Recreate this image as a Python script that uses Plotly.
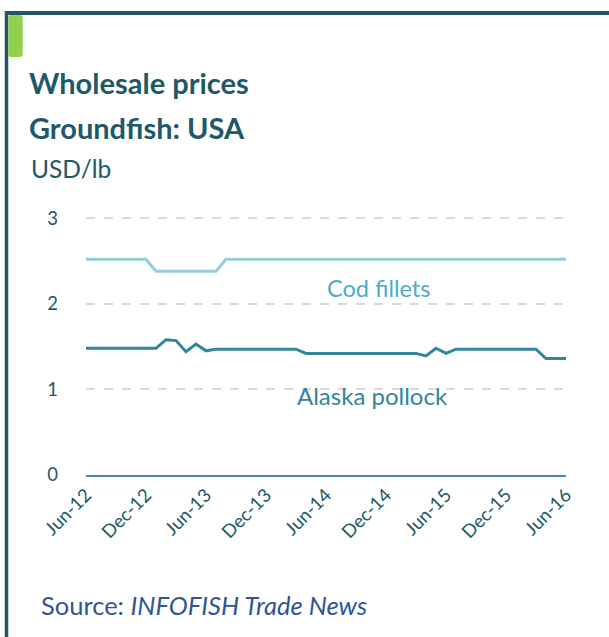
import plotly.graph_objects as go

# ---- data ----
month_labels = ["Jun-12","Jul-12","Aug-12","Sep-12","Oct-12","Nov-12","Dec-12",
                "Jan-13","Feb-13","Mar-13","Apr-13","May-13","Jun-13","Jul-13","Aug-13","Sep-13","Oct-13","Nov-13","Dec-13",
                "Jan-14","Feb-14","Mar-14","Apr-14","May-14","Jun-14","Jul-14","Aug-14","Sep-14","Oct-14","Nov-14","Dec-14",
                "Jan-15","Feb-15","Mar-15","Apr-15","May-15","Jun-15","Jul-15","Aug-15","Sep-15","Oct-15","Nov-15","Dec-15",
                "Jan-16","Feb-16","Mar-16","Apr-16","May-16","Jun-16"]
cod_fillets = [2.52,2.52,2.52,2.52,2.52,2.52,2.52,
               2.38,2.38,2.38,2.38,2.38,2.38,2.38,2.52,2.52,2.52,2.52,2.52,
               2.52,2.52,2.52,2.52,2.52,2.52,2.52,2.52,2.52,2.52,2.52,2.52,
               2.52,2.52,2.52,2.52,2.52,2.52,2.52,2.52,2.52,2.52,2.52,2.52,
               2.52,2.52,2.52,2.52,2.52,2.52]
alaska_pollock = [1.48,1.48,1.48,1.48,1.48,1.48,1.48,
                  1.48,1.58,1.57,1.44,1.53,1.45,1.47,1.47,1.47,1.47,1.47,1.47,
                  1.47,1.47,1.47,1.42,1.42,1.42,1.42,1.42,1.42,1.42,1.42,1.42,
                  1.42,1.42,1.42,1.39,1.48,1.42,1.47,1.47,1.47,1.47,1.47,1.47,
                  1.47,1.47,1.47,1.36,1.36,1.36]
tick_labels = ["Jun-12","Dec-12","Jun-13","Dec-13","Jun-14","Dec-14","Jun-15","Dec-15","Jun-16"]
y_ticks = [0, 1, 2, 3]

W, H = 609, 637
L, R, T, B = 86, 43, 201, 162
PW, PH = W - L - R, H - T - B

def px(x):
    return (x - L) / PW

def py(y):
    return (H - B - y) / PH

FONT = "Lato"
DARK = "#215868"

fig = go.Figure()
fig.add_trace(go.Scatter(x=month_labels, y=cod_fillets, mode="lines",
                         line=dict(color="#93CDDD", width=3), name="Cod fillets"))
fig.add_trace(go.Scatter(x=month_labels, y=alaska_pollock, mode="lines",
                         line=dict(color="#31859C", width=3), name="Alaska pollock"))

fig.update_layout(
    width=W, height=H,
    margin=dict(l=L, r=R, t=T, b=B),
    paper_bgcolor="white", plot_bgcolor="white",
    showlegend=False,
    font=dict(family=FONT, color=DARK),
    xaxis=dict(type="category", range=[0, len(month_labels) - 1],
               tickmode="array", tickvals=tick_labels, ticktext=tick_labels,
               tickangle=-45, tickfont=dict(size=18.5, color=DARK),
               showgrid=False, showline=True, linecolor="#4F81BD", linewidth=2,
               ticks="", zeroline=False),
    yaxis=dict(range=[0, 3.2], tickvals=y_ticks, tickfont=dict(size=18.5, color=DARK),
               showgrid=True, gridcolor="#D9D9D9", griddash="dash", gridwidth=1.5,
               zeroline=False, showline=False, ticks="", ticklabelstandoff=27),
)

# rounded green tab (pixel coords converted to paper)
x0, x1, y0, y1, r = 8.3, 22.7, 15, 57, 3
tab_path = (f"M {px(x0 + r)},{py(y0)} L {px(x1 - r)},{py(y0)} "
            f"Q {px(x1)},{py(y0)} {px(x1)},{py(y0 + r)} L {px(x1)},{py(y1 - r)} "
            f"Q {px(x1)},{py(y1)} {px(x1 - r)},{py(y1)} L {px(x0 + r)},{py(y1)} "
            f"Q {px(x0)},{py(y1)} {px(x0)},{py(y1 - r)} L {px(x0)},{py(y0 + r)} "
            f"Q {px(x0)},{py(y0)} {px(x0 + r)},{py(y0)} Z")

shapes = [
    dict(type="line", xref="paper", yref="paper", x0=px(5), x1=px(W + 5), y0=py(13), y1=py(13),
         line=dict(color=DARK, width=4)),
    dict(type="line", xref="paper", yref="paper", x0=px(6.5), x1=px(6.5), y0=py(11), y1=py(H + 5),
         line=dict(color=DARK, width=3.5)),
    dict(type="path", xref="paper", yref="paper", path=tab_path,
         fillcolor="#92D050", line=dict(width=0)),
]
fig.update_layout(shapes=shapes)

annots = [
    dict(text="<b>Wholesale prices</b>", x=px(27), y=py(82), size=29, color=DARK),
    dict(text="<b>Groundfish: USA</b>", x=px(27), y=py(127), size=29, color=DARK),
    dict(text="USD/lb", x=px(29), y=py(168), size=24.5, color=DARK),
    dict(text="Source: <i>INFOFISH Trade News</i>", x=px(39), y=py(605), size=25.5, color="#2F5597"),
]
for a in annots:
    fig.add_annotation(text=a["text"], x=a["x"], y=a["y"], xref="paper", yref="paper",
                       xanchor="left", yanchor="middle", showarrow=False,
                       font=dict(family=FONT, size=a["size"], color=a["color"]))

fig.add_annotation(text="Cod fillets", x=px(378), y=py(288), xref="paper", yref="paper",
                   xanchor="center", yanchor="middle",
                   showarrow=False, font=dict(family=FONT, size=23.5, color="#4BACC6"))
fig.add_annotation(text="Alaska pollock", x=px(372), y=py(395), xref="paper", yref="paper",
                   xanchor="center", yanchor="middle",
                   showarrow=False, font=dict(family=FONT, size=24, color="#31859C"))

fig.write_html("out.html", config={"displayModeBar": False},
               post_script="document.body.style.margin='0px';")
